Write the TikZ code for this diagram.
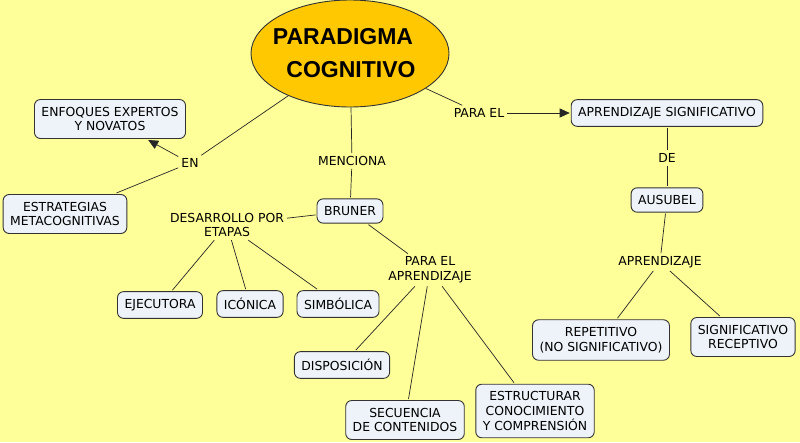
\documentclass[tikz,border=0pt]{standalone}
\usepackage{fontspec}
\setmainfont{DejaVu Sans}
\newfontfamily\titlefont{Liberation Sans}
\usepackage{xcolor}
\usepackage{tikz}
\usetikzlibrary{arrows.meta, shapes.geometric}

\definecolor{mapbg}{HTML}{FFFF99}
\definecolor{boxfill}{HTML}{EEF3F9}
\definecolor{mainfill}{HTML}{FFC800}

\begin{document}
\begin{tikzpicture}[x=1pt, y=-1pt,
  concept/.style={draw=black!80, line width=0.9pt, fill=boxfill, rounded corners=6pt,
    align=center, inner xsep=7pt, inner ysep=7.5pt, outer sep=1.5pt,
    font=\fontsize{12.4}{14.6}\selectfont},
  linkword/.style={align=center, inner sep=3pt, font=\fontsize{12.4}{14.6}\selectfont},
  link/.style={draw=black!85, line width=0.7pt},
  linkarrow/.style={link, -{Triangle[length=10pt,width=9pt]}}]

% Background
\useasboundingbox (0,0) rectangle (800,442);
\fill[mapbg] (0,0) rectangle (800,442);

% Main concept
\node[ellipse, draw=black!80, line width=0.9pt, fill=mainfill, minimum width=198, minimum height=107,
  inner sep=0pt, align=center, font=\titlefont\bfseries\fontsize{23}{33}\selectfont]
  (main) at (350,53.5) {\makebox[0pt]{PARADIGMA\hspace*{14pt}}\\\makebox[0pt]{\hspace*{2pt}COGNITIVO}};

% Concepts
\node[concept] (enfoques) at (110,119) {ENFOQUES EXPERTOS\\Y NOVATOS};
\node[concept] (estrat)   at (65,214)  {ESTRATEGIAS\\METACOGNITIVAS};
\node[concept] (bruner)   at (350,211) {BRUNER};
\node[concept] (ejecut)   at (160,305) {EJECUTORA};
\node[concept] (iconica)  at (250,304) {ICÓNICA};
\node[concept] (simbol)   at (338,304) {SIMBÓLICA};
\node[concept] (dispos)   at (342,365) {DISPOSICIÓN};
\node[concept] (secuen)   at (405,420) {SECUENCIA\\DE CONTENIDOS};
\node[concept] (estruct)  at (535,411) {ESTRUCTURAR\\CONOCIMIENTO\\Y COMPRENSIÓN};
\node[concept] (apsignif) at (667,113) {APRENDIZAJE SIGNIFICATIVO};
\node[concept] (ausubel)  at (667,200) {AUSUBEL};
\node[concept] (repetit)  at (601,340) {REPETITIVO\\(NO SIGNIFICATIVO)};
\node[concept] (sigrecep) at (743,337) {SIGNIFICATIVO\\RECEPTIVO};

% Linking words
\node[linkword] (en)       at (190,163) {EN};
\node[linkword] (menciona) at (352,161) {MENCIONA};
\node[linkword] (desarr)   at (227,225) {DESARROLLO POR\\ETAPAS};
\node[linkword] (paraapr)  at (430,270) {PARA EL\\APRENDIZAJE};
\node[linkword] (parael)   at (479,113) {PARA EL};
\node[linkword] (de)       at (667,158) {DE};
\node[linkword] (aprendiz) at (660,262) {APRENDIZAJE};

% Connectors
\draw[link] (main) -- (en);
\draw[linkarrow] (en) -- (enfoques);
\draw[link] (en) -- (estrat);

\draw[link] (main) -- (menciona);
\draw[link] (menciona) -- (bruner);
\draw[link] (bruner) -- (desarr);
\draw[link] (desarr) -- (ejecut);
\draw[link] (desarr) -- (iconica);
\draw[link] (desarr) -- (simbol);
\draw[link] (bruner) -- (paraapr);
\draw[link] (paraapr) -- (dispos);
\draw[link] (paraapr) -- (secuen);
\draw[link] (paraapr) -- (estruct);

\draw[link] (main) -- (parael);
\draw[linkarrow] (parael) -- (apsignif);
\draw[link] (apsignif) -- (de);
\draw[link] (de) -- (ausubel);
\draw[link] (ausubel) -- (aprendiz);
\draw[link] (aprendiz) -- (repetit);
\draw[link] (aprendiz) -- (sigrecep);

\end{tikzpicture}
\end{document}
